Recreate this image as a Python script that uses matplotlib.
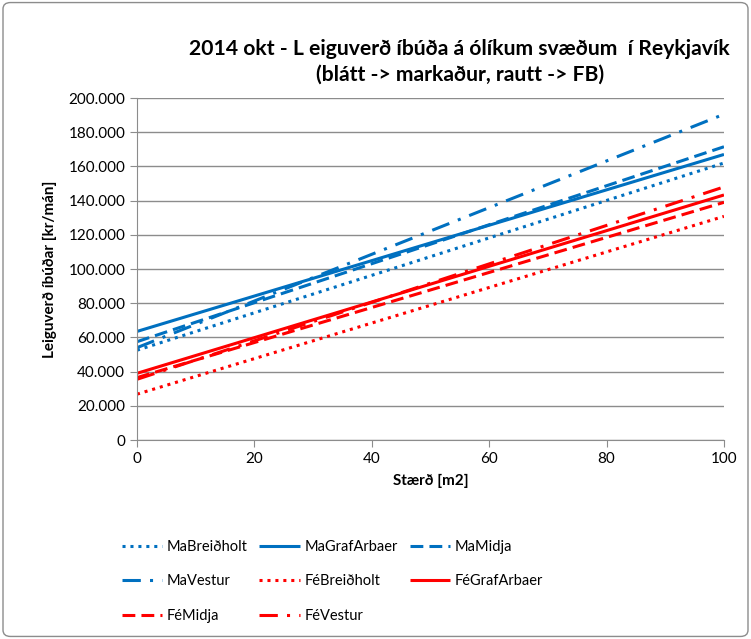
import numpy as np
import matplotlib
matplotlib.use("Agg")
import matplotlib.pyplot as plt
from matplotlib.ticker import FuncFormatter, MultipleLocator
from matplotlib.patches import FancyBboxPatch

plt.rcParams['font.family'] = ['Lato', 'DejaVu Sans']

# rent lines: value at size 0 and at size 100 (kr/mán)
x_ends = [0, 100]
names = ["MaBreiðholt", "MaGrafArbaer", "MaMidja", "MaVestur",
         "FéBreiðholt", "FéGrafArbaer", "FéMidja", "FéVestur"]
start_vals = [52500, 63500, 57500, 54000, 26800, 39000, 36500, 35500]
end_vals = [162000, 167000, 171500, 190500, 130800, 143300, 139000, 148000]

BLUE = "#0070C0"
RED = "#FF0000"
colors = [BLUE] * 4 + [RED] * 4
styles = [(0, (1, 1.6)), "-", (0, (4.2, 2)), (0, (6, 3, 1, 3))] * 2

fig = plt.figure(figsize=(7.51, 6.39), dpi=100)
ax = fig.add_axes([0.1824, 0.3114, 0.964 - 0.1824, 0.8466 - 0.3114])

for name, y0, y1, c, ls in zip(names, start_vals, end_vals, colors, styles):
    ax.plot(x_ends, [y0, y1], color=c, ls=ls, lw=2.2, label=name,
            solid_capstyle="butt", dash_capstyle="butt")

ax.set_xlim(0, 100)
ax.set_ylim(0, 200000)
ax.xaxis.set_major_locator(MultipleLocator(20))
ax.yaxis.set_major_locator(MultipleLocator(20000))
ax.yaxis.set_major_formatter(FuncFormatter(lambda v, p: "0" if v == 0 else f"{int(v):,}".replace(",", ".")))
ax.grid(axis="y", color="#8c8c8c", lw=1)
ax.set_axisbelow(True)
for s in ["top", "right"]:
    ax.spines[s].set_visible(False)
for s in ["left", "bottom"]:
    ax.spines[s].set_color("#8c8c8c")
ax.tick_params(colors="#8c8c8c", labelcolor="black", labelsize=11, length=5)
ax.set_xlabel("Stærð [m2]", fontsize=11, fontweight="bold", labelpad=6)
ax.set_ylabel("Leiguverð íbúðar [kr/mán]", fontsize=11, fontweight="bold", labelpad=8)

fig.text(0.612, 0.903, "2014 okt - L eiguverð íbúða á ólíkum svæðum  í Reykjavík\n(blátt -> markaður, rautt -> FB)",
         ha="center", va="center", fontsize=15.2, fontweight="bold", linespacing=1.35)

h, l = ax.get_legend_handles_labels()
order = [0, 3, 6, 1, 4, 7, 2, 5]
fig.legend([h[i] for i in order], [l[i] for i in order], ncol=3, frameon=False,
           loc="upper left", bbox_to_anchor=(0.162, 0.155), fontsize=10.5,
           borderpad=0, borderaxespad=0,
           handlelength=2.75, handletextpad=0.35, columnspacing=0.8, labelspacing=1.4)

fig.patches.append(FancyBboxPatch((0.004, 0.004), 0.992, 0.992, boxstyle="round,pad=0,rounding_size=0.01",
                                  transform=fig.transFigure, fill=False, ec="#8c8c8c", lw=1))

fig.savefig("out.png", dpi=100)
